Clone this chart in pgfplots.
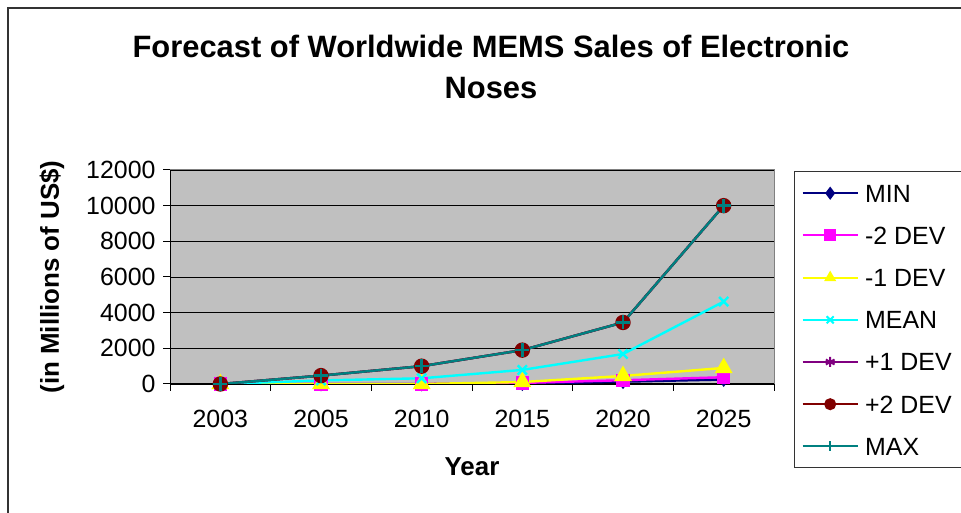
\documentclass[border=0pt]{standalone}
\usepackage{fontspec}
\setmainfont{Liberation Sans}
\usepackage{pgfplots}
\pgfplotsset{compat=1.18}
\definecolor{plotbg}{RGB}{192,192,192}
\definecolor{cMIN}{RGB}{0,0,128}
\definecolor{cM2}{RGB}{255,0,255}
\definecolor{cM1}{RGB}{255,255,0}
\definecolor{cMEAN}{RGB}{0,255,255}
\definecolor{cP1}{RGB}{128,0,128}
\definecolor{cP2}{RGB}{128,0,0}
\definecolor{cMAX}{RGB}{0,128,128}
\begin{document}
\begin{tikzpicture}[x=1bp,y=1bp]
\useasboundingbox (0,0) rectangle (961,513);
\draw[line width=1.5bp, black!80] (8,-10) -- (8,505) -- (975,505);
\node[align=center, font=\bfseries\fontsize{31}{41}\selectfont] at (491,446) {Forecast of Worldwide MEMS Sales of Electronic\\Noses};
\draw[line width=1bp, black!80] (975,341) -- (794,341) -- (794,45) -- (975,45);
\begin{axis}[
  at={(170bp,129bp)}, anchor=south west,
  scale only axis, width=604bp, height=214bp,
  xmin=-0.5, xmax=5.5, ymin=0, ymax=12000,
  axis lines=left, axis line style={-, black, line width=1bp},
  axis background/.style={fill=plotbg, draw=gray, line width=1bp},
  ytick={0,2000,...,12000},
  scaled y ticks=false,
  /pgf/number format/1000 sep={},
  /pgf/number format/assume math mode=true,
  ymajorgrids, grid style={black, line width=0.9bp},
  xtick={0,...,5},
  xticklabels={2003,2005,2010,2015,2020,2025},
  minor xtick={-0.5,0.5,...,5.5},
  major x tick style={draw=none},
  tick style={black, line width=1bp},
  tick align=outside,
  major tick length=7bp, minor tick length=7bp,
  ticklabel style={font=\fontsize{25}{25}\selectfont},
  xticklabel style={yshift=-16bp},
  yticklabel style={xshift=-4bp},
  xlabel={Year}, ylabel={(in Millions of US\$)},
  label style={font=\bfseries\fontsize{26}{26}\selectfont},
  xlabel style={at={(axis description cs:0.5,-0.388)}, anchor=center},
  ylabel style={at={(axis description cs:-0.1954,0.5)}, anchor=center},
  legend cell align=left,
  legend style={draw=none, fill=none, inner sep=0pt,
    at={(axis description cs:1.0455,0.94393)}, anchor=north west,
    font=\fontsize{25}{25}\selectfont, row sep=20.2bp,
    /tikz/every odd column/.append style={column sep=3bp},
    nodes={inner xsep=3.5bp, inner ysep=2bp, text height=18bp, text depth=0bp}},
  legend image code/.code={\draw[mark repeat=2, mark phase=2, mark size=5bp, line width=2bp] plot coordinates {(0bp,0bp) (27.5bp,0bp) (55bp,0bp)};},
  every axis plot/.append style={line width=2.4bp},
]
\addplot[color=cMIN, mark=diamond*, mark size=5.5bp] coordinates {(0,0) (1,0) (2,0) (3,20) (4,130) (5,250)};
\addlegendentry{MIN}
\addplot[color=cM2, mark=square*, mark size=5.5bp] coordinates {(0,0) (1,0) (2,0) (3,60) (4,210) (5,380)};
\addlegendentry{-2 DEV}
\addplot[color=cM1, mark=triangle*, mark size=8bp] coordinates {(0,0) (1,0) (2,0) (3,110) (4,450) (5,900)};
\addlegendentry{-1 DEV}
\addplot[color=cMEAN, mark=x, mark size=6.5bp] coordinates {(0,0) (1,200) (2,320) (3,790) (4,1680) (5,4620)};
\addlegendentry{MEAN}
\addplot[color=cP1, mark=asterisk, mark size=7bp] coordinates {(0,0) (1,470) (2,1000) (3,1900) (4,3450) (5,10000)};
\addlegendentry{+1 DEV}
\addplot[color=cP2, mark=*, mark size=6.5bp] coordinates {(0,0) (1,470) (2,1000) (3,1900) (4,3450) (5,10000)};
\addlegendentry{+2 DEV}
\addplot[color=cMAX, mark=+, mark size=7bp] coordinates {(0,0) (1,470) (2,1000) (3,1900) (4,3450) (5,10000)};
\addlegendentry{MAX}
\end{axis}
\end{tikzpicture}
\end{document}
